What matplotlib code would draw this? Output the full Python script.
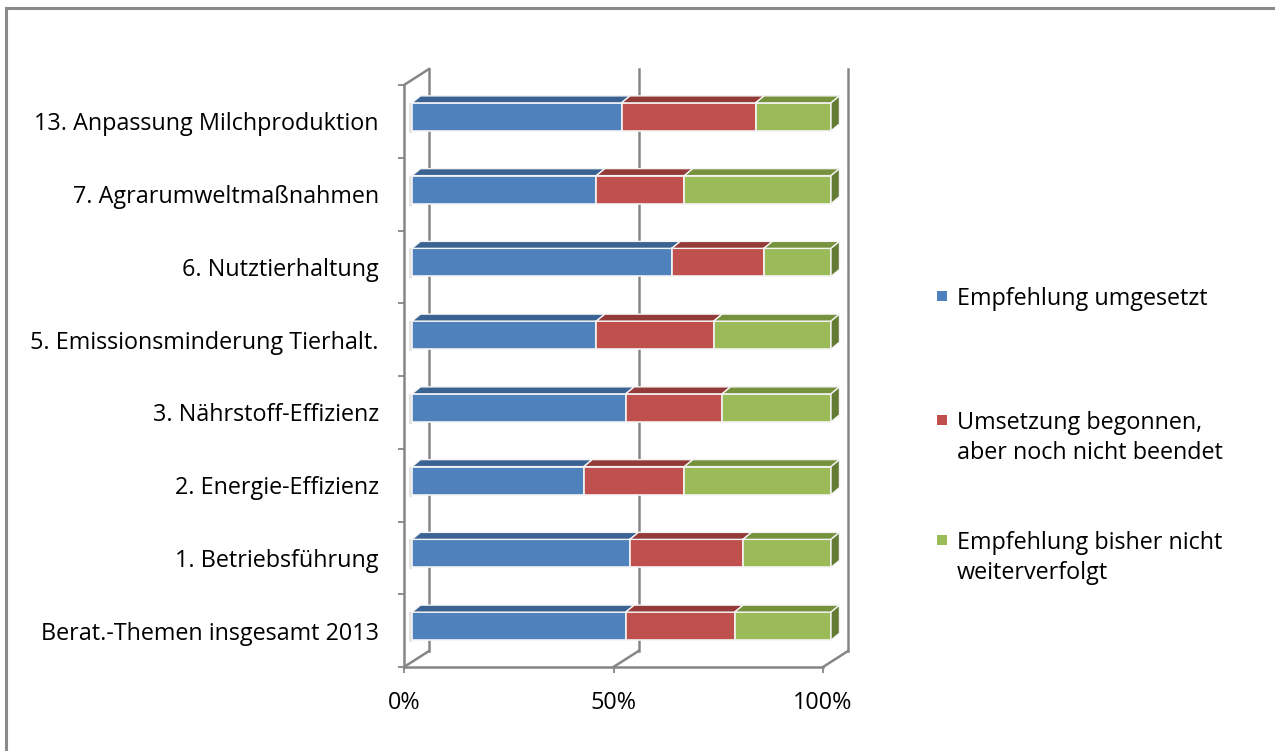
import numpy as np
import matplotlib.pyplot as plt
import matplotlib.transforms as mtransforms
from matplotlib.patches import Polygon, Rectangle
from matplotlib.lines import Line2D

plt.rcParams['font.family'] = ['Open Sans', 'DejaVu Sans']

# Anteile je Beratungsthema (von unten nach oben), in %
themen = ['Berat.-Themen insgesamt 2013', '1. Betriebsführung', '2. Energie-Effizienz',
          '3. Nährstoff-Effizienz', '5. Emissionsminderung Tierhalt.', '6. Nutztierhaltung',
          '7. Agrarumweltmaßnahmen', '13. Anpassung Milchproduktion']
umgesetzt = [51, 52, 41, 51, 44, 62, 44, 50]
begonnen = [26, 27, 24, 23, 28, 22, 21, 32]
nicht_verfolgt = [23, 21, 35, 26, 28, 16, 35, 18]

serien = ['Empfehlung umgesetzt', 'Umsetzung begonnen,\naber noch nicht beendet',
          'Empfehlung bisher nicht\nweiterverfolgt']
farben = ['#4f81bd', '#c0504d', '#9bbb59']
farben_oben = ['#3a6393', '#943a38', '#76923c']
farbe_seite = '#637b32'
grau = '#868686'
fs = 16.8

W, H = 1275, 751
fig = plt.figure(figsize=(W / 100, H / 100), dpi=100)
ax = fig.add_axes([404 / W, (H - 667) / H, 419 / W, 582 / H])
ax.set_xlim(0, 100)
ax.set_ylim(-0.5, 7.5)
for s in ax.spines.values():
    s.set_visible(False)

# Pixel -> Dateneinheiten
PX = 100 / 419
PY = 1 / 72.75
tx, ty = 25 * PX, 16 * PY  # Tiefe der Wände

# Rückwand mit Gitterlinien, Boden und linke Wand
for v in [0, 50, 100]:
    ax.add_line(Line2D([v + tx, v + tx], [-0.5 + ty, 7.5 + ty], color=grau, lw=1.8,
                       clip_on=False, zorder=1))
    ax.add_line(Line2D([v, v + tx], [-0.5, -0.5 + ty], color=grau, lw=1.8,
                       clip_on=False, zorder=1))
ax.add_line(Line2D([0, 100], [-0.5, -0.5], color=grau, lw=1.8, clip_on=False, zorder=1))
ax.add_line(Line2D([0, 0], [-0.5, 7.5], color=grau, lw=1.8, clip_on=False, zorder=1))
ax.add_line(Line2D([0, tx], [7.5, 7.5 + ty], color=grau, lw=1.8, clip_on=False, zorder=1))

# Balken: Vorderseite, Oberseite, rechte Seitenfläche
bx, by = 8 * PX, 4.5 * PY
dx, dy = 8.5 * PX, 7 * PY
h = 28 * PY
y = np.arange(len(themen))
links = np.zeros(len(themen))
werte = [umgesetzt, begonnen, nicht_verfolgt]
for k, (vals, c, co) in enumerate(zip(werte, farben, farben_oben)):
    vals = np.array(vals, dtype=float)
    ax.barh(y + by, vals, left=links + bx, height=h, color=c, edgecolor='#f4f4f4',
            lw=1.2, zorder=3, clip_on=False)
    for i in range(len(themen)):
        l = links[i] + bx
        r = l + vals[i]
        top = y[i] + by + h / 2
        bot = y[i] + by - h / 2
        ax.add_patch(Polygon([(l, top), (r, top), (r + dx, top + dy), (l + dx, top + dy)],
                             closed=True, facecolor=co, edgecolor='#f4f4f4', lw=1.0,
                             zorder=3, clip_on=False))
        if k == len(werte) - 1:
            ax.add_patch(Polygon([(r, bot), (r, top), (r + dx, top + dy), (r + dx, bot + dy)],
                                 closed=True, facecolor=farbe_seite, edgecolor='#f4f4f4',
                                 lw=1.0, zorder=3, clip_on=False))
        if k == 0:
            # weicher Schatten links am Balken
            ax.add_patch(Rectangle((l - 3 * PX, bot - 2 * PY), 3 * PX, h + 2 * PY,
                                   facecolor='#b0b0b0', alpha=0.35, lw=0, zorder=2))
    links += vals

# Achsenbeschriftungen
ax.set_yticks(y)
ax.set_yticklabels(themen, fontsize=fs)
# Kategorienamen etwas nach unten versetzen
versatz = mtransforms.ScaledTranslation(0, -5 / 100, fig.dpi_scale_trans)
for lab in ax.get_yticklabels():
    lab.set_transform(lab.get_transform() + versatz)
ax.set_yticks(np.arange(-0.5, 8, 1), minor=True)
ax.tick_params(axis='y', which='major', length=0, pad=18)
ax.tick_params(axis='y', which='minor', length=4.5, width=1.3, color=grau)
ax.set_xticks([0, 50, 100])
ax.set_xticklabels(['0%', '50%', '100%'], fontsize=fs)
ax.tick_params(axis='x', length=4, width=1.3, color=grau, pad=13)

# Legende
leg_y = [296, 420, 540]
for c, txt, ly in zip(farben, serien, leg_y):
    fig.add_artist(Rectangle((937 / W, 1 - (ly + 5) / H), 10 / W, 10 / H,
                             transform=fig.transFigure, facecolor=c, lw=0))
    fig.text(957 / W, 1 - (ly - 9) / H, txt, fontsize=fs, va='top', ha='left',
             linespacing=1.32)

# Rahmen
fig.add_artist(Line2D([6 / W, 6 / W], [0, 1 - 8 / H], color='#8a8a8a', lw=2.2,
                      transform=fig.transFigure))
fig.add_artist(Line2D([6 / W, 1], [1 - 8 / H, 1 - 8 / H], color='#8a8a8a', lw=2.2,
                      transform=fig.transFigure))

fig.savefig('out.png', dpi=100)
